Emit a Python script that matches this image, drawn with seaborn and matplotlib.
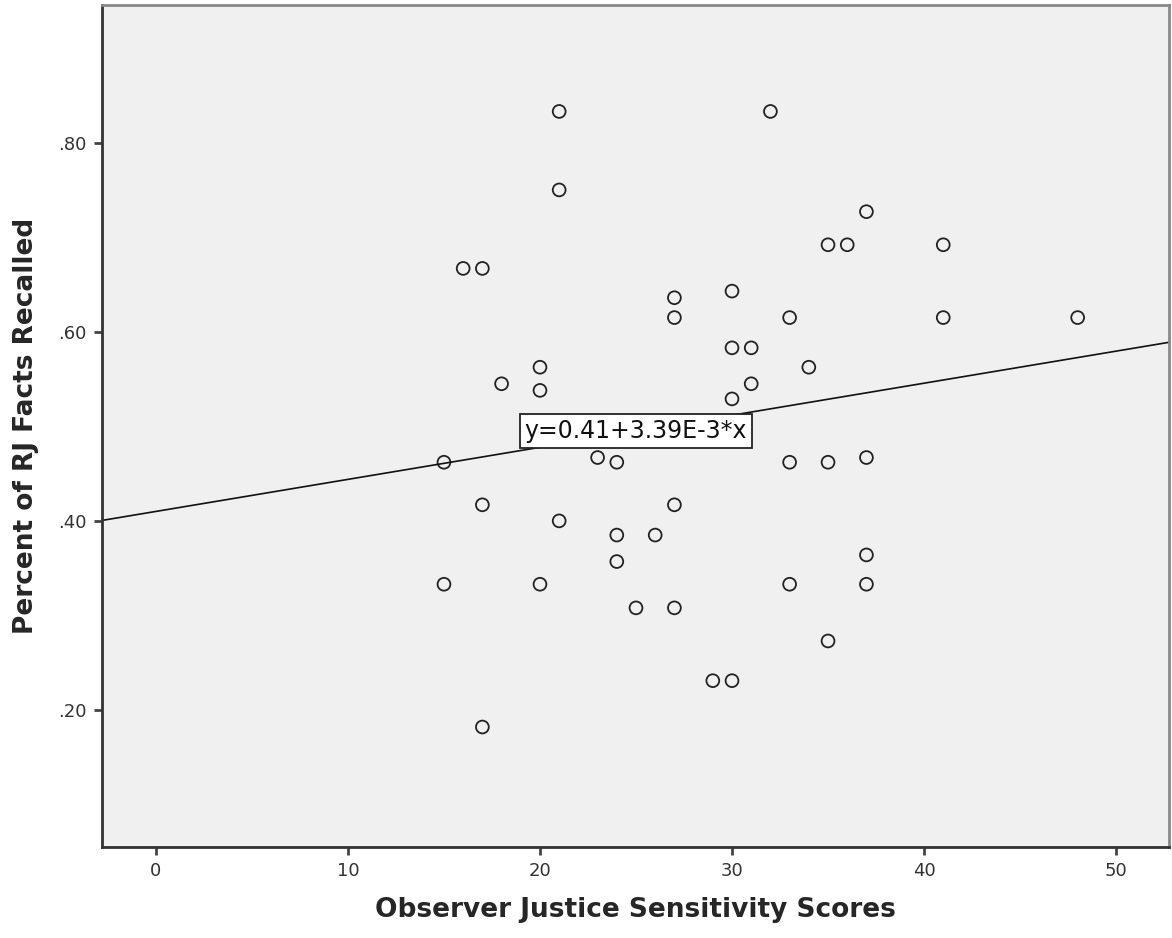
import matplotlib
matplotlib.use("Agg")
import matplotlib.pyplot as plt
import pandas as pd
import seaborn as sns

# Observer justice sensitivity score per participant
scores = [15, 15, 16, 17, 17, 17, 18, 20, 20, 20, 21, 21, 21, 23, 24, 24,
          24, 25, 26, 27, 27, 27, 27, 29, 30, 30, 30, 30, 31, 31, 32, 33,
          33, 33, 34, 35, 35, 35, 36, 37, 37, 37, 37, 41, 41, 48]
# Share of restorative-justice facts recalled
recalled = [0.462, 0.333, 0.667, 0.667, 0.417, 0.182, 0.545, 0.5625, 0.538,
            0.333, 0.833, 0.75, 0.40, 0.467, 0.462, 0.385, 0.357, 0.308,
            0.385, 0.636, 0.615, 0.417, 0.308, 0.231, 0.231, 0.643, 0.583,
            0.529, 0.583, 0.545, 0.833, 0.615, 0.462, 0.333, 0.5625, 0.692,
            0.462, 0.273, 0.692, 0.727, 0.467, 0.364, 0.333, 0.692, 0.615,
            0.615]

# fit line coefficients as reported in the chart
intercept = 0.41
slope = 3.39e-3
label_x = 25

x_ticks = [0, 10, 20, 30, 40, 50]
y_ticks = [0.20, 0.40, 0.60, 0.80]
y_tick_labels = [".20", ".40", ".60", ".80"]

df = pd.DataFrame({"score": scores, "recalled": recalled})

sns.set_style("ticks")
plt.rcParams["font.family"] = ["DejaVu Sans"]

fig = plt.figure(figsize=(11.72, 9.38), dpi=100)
ax = fig.add_axes([0.087, 0.097, 0.9105, 0.8977])
ax.set_facecolor("#f0f0f0")

sns.scatterplot(data=df, x="score", y="recalled", ax=ax, marker="o",
                s=85, facecolor="none", edgecolor="#222222", linewidth=1.3)

ax.axline((0, intercept), slope=slope, color="#111111", linewidth=1.2, zorder=1)
ax.text(label_x, intercept + slope * label_x, "y=0.41+3.39E-3*x",
        ha="center", va="center", fontsize=17, color="#111111",
        bbox=dict(boxstyle="square,pad=0.22", facecolor="white",
                  edgecolor="#222222", linewidth=1.3), zorder=3)

ax.set_xlim(-2.81, 52.76)
ax.set_ylim(0.0551, 0.9456)
ax.set_xticks(x_ticks)
ax.set_yticks(y_ticks)
ax.set_yticklabels(y_tick_labels)
ax.tick_params(axis="both", labelsize=13, colors="#444444", labelcolor="#333333",
               length=6, width=2, direction="out", pad=5)

for side in ["left", "bottom"]:
    ax.spines[side].set_color("#333333")
    ax.spines[side].set_linewidth(2)
for side in ["top", "right"]:
    ax.spines[side].set_visible(True)
    ax.spines[side].set_color("#888888")
    ax.spines[side].set_linewidth(2)

ax.set_xlabel("Observer Justice Sensitivity Scores", fontsize=19,
              fontweight="bold", labelpad=12)
ax.set_ylabel("Percent of RJ Facts Recalled", fontsize=19,
              fontweight="bold", labelpad=14)

fig.savefig("out.png", dpi=100)
plt.close(fig)
